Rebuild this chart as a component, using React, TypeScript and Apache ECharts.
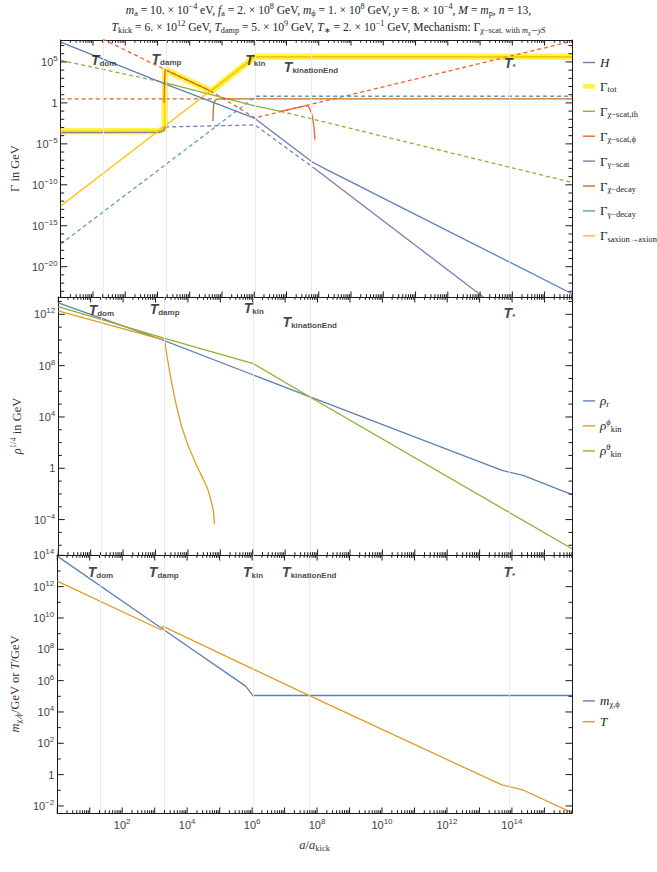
import React, { useEffect, useRef } from "react";
import * as echarts from "echarts";

// ---------- axis extents (log10 of the plotted quantity) ----------
const X_RANGE = [0, 15.85];
const P1_RANGE = [-23.7, 7.68];
const P2_RANGE = [-6.76, 13.35];
const P3_RANGE = [-2.45, 14.02];

// ---------- tick labels (exponents) ----------
const X_LABELS = [2, 4, 6, 8, 10, 12, 14];
const P1_LABELS = [-20, -15, -10, -5, 0, 5];
const P2_LABELS = [-4, 0, 4, 8, 12];
const P3_LABELS = [-2, 0, 2, 4, 6, 8, 10, 12, 14];

// ---------- temperature markers ----------
const T_NAMES = ["dom", "damp", "kin", "kinationEnd", "*"];
const T_LOGA = [1.33, 3.28, 6.03, 7.76, 13.92];

// ---------- panel 1 : rates (log10 a/a_kick , log10 Γ/GeV) ----------
const H_LOGA = [0, 3.25, 6.02, 7.5, 7.8, 8.2, 8.6, 15.85];
const H_LOGV = [7.42, 2.3, -1.9, -6.34, -7.22, -8.05, -8.85, -23.3];

const TOT_LOGA = [0, 3.0, 3.15, 3.22, 3.24, 4.66, 6.02, 15.85];
const TOT_LOGV = [-3.47, -3.45, -3.3, -3.06, 4.05, 1.42, 5.63, 5.63];

const TH_DASH1_LOGA = [0, 3.25];
const TH_DASH1_LOGV = [5.2, 2.45];
const TH_SOLID_LOGA = [3.25, 6.02, 6.82];
const TH_SOLID_LOGV = [2.45, -0.35, -1.03];
const TH_DASH2_LOGA = [6.82, 15.85];
const TH_DASH2_LOGV = [-1.03, -9.71];

const PHI_DASH_LOGA = [1.3, 3.24, 4.66, 6.02, 15.85];
const PHI_DASH_LOGV = [7.8, 4.05, 1.42, -1.83, 7.53];
const PHI_SOLID1_LOGA = [3.2, 3.21, 3.22, 3.24, 4.66];
const PHI_SOLID1_LOGV = [0.0, 1.5, 3.0, 4.05, 1.42];
const PHI_SOLID2_LOGA = [6.82, 7.64, 7.71, 7.79, 7.85, 7.88];
const PHI_SOLID2_LOGV = [-1.03, -0.29, -0.61, -1.43, -2.86, -4.49];

const GS_SOLID1_LOGA = [0, 3.05, 3.2, 3.24];
const GS_SOLID1_LOGV = [-3.62, -3.6, -3.35, -2.94];
const GS_DASH_LOGA = [3.24, 6.02, 7.85];
const GS_DASH_LOGV = [-2.94, -2.69, -7.95];
const GS_SOLID2_LOGA = [7.85, 13.1];
const GS_SOLID2_LOGV = [-7.95, -23.7];

const CD_DASH_LOGA = [0, 4.75];
const CD_DASH_LOGV = [0.49, 0.49];
const CD_SOLID_LOGA = [4.72, 4.73, 4.75, 4.8, 4.9, 15.85];
const CD_SOLID_LOGV = [-2.25, -1.0, 0.0, 0.38, 0.49, 0.49];

const GD_LOGA = [0, 6.05, 15.85];
const GD_LOGV = [-17.23, 0.81, 0.81];

const SAX_LOGA = [0, 6.02, 15.85];
const SAX_LOGV = [-12.6, 5.63, 5.63];

// ---------- panel 2 : energy densities (log10 ρ^{1/4}/GeV) ----------
const RHOR_LOGA = [0, 3.23, 6.02, 7.71, 13.69, 14.34, 15.85];
const RHOR_LOGV = [12.9, 9.99, 7.27, 5.63, -0.17, -0.56, -2.05];
const RHOPHI_LOGA = [0, 3.28, 3.35, 3.49, 3.64, 3.79, 4.0, 4.26, 4.46, 4.62, 4.72, 4.79, 4.82];
const RHOPHI_LOGV = [12.27, 9.99, 8.82, 6.75, 4.93, 3.38, 1.82, 0.26, -0.77, -1.68, -2.59, -3.37, -4.35];
const RHOTH_LOGA = [0, 3.23, 6.02, 7.71, 15.85];
const RHOTH_LOGV = [12.6, 10.17, 8.15, 5.63, -6.27];

// ---------- panel 3 : mass and temperature (log10 GeV) ----------
const M_LOGA = [0, 3.19, 5.8, 5.95, 6.02, 15.85];
const M_LOGV = [13.95, 9.38, 5.65, 5.25, 5.05, 5.05];
const TEMP_LOGA = [0, 3.19, 3.26, 7.73, 13.69, 14.34, 15.85];
const TEMP_LOGV = [12.35, 9.25, 9.46, 5.07, -0.66, -0.98, -2.43];

// ---------- styling ----------
const SERIF = "'Liberation Serif', 'Times New Roman', serif";
const SANS = "'Liberation Sans', Arial, sans-serif";
const C = {
  blue: "#5E81B5",
  orange: "#E19C24",
  green: "#8FB032",
  red: "#EB6235",
  purple: "#8778B3",
  brown: "#C56E1A",
  lblue: "#5D9EC7",
  gold: "#FFBF00",
  yellow: "#FFF34A",
  yellowCore: "#F2DE00",
};
const DASH = [4, 3];
const LW = 1.3;
const PANELS = [
  { top: 40, height: 257 },
  { top: 297, height: 258 },
  { top: 555, height: 258 },
];
const GRID_L = 57;
const GRID_R = 85;
const T_LABEL_DY = [
  [19.5, 19, 20, 26.7, 23.3],
  [13, 12, 11.3, 25.3, 16.3],
  [17.3, 17.3, 16.7, 17.3, 16.7],
];
const TICK_LEN = { xMajor: 5.5, xMinor: 2.8, yMajor: 6.5, yMinor: 3.5 };

const pts = (xs: number[], ys: number[]) => xs.map((x, i) => [x, ys[i]]);
const nb = (s: string) =>
  s.replace(/^ +| +$/g, (m) => "\u00a0".repeat(m.length));
const rt = (toks: [string, string][]) =>
  toks.map(([k, t]) => `{${k}|${nb(t)}}`).join("");

const intRange = (a: number, b: number) => {
  const r: number[] = [];
  for (let i = Math.ceil(a); i <= Math.floor(b); i++) r.push(i);
  return r;
};
const X_MAJOR = intRange(X_RANGE[0], X_RANGE[1]);
const X_MINOR: number[] = [];
X_MAJOR.forEach((n) => {
  for (let k = 2; k <= 9; k++) {
    const v = n + Math.log10(k);
    if (v < X_RANGE[1]) X_MINOR.push(v);
  }
});
const yMinorOf = (r: number[], labels: number[]) =>
  intRange(r[0], r[1]).filter((v) => labels.indexOf(v) < 0);

const pow10 = (v: number) => {
  const n = Math.round(v);
  if (n === 0) return "{b|1}";
  return `{b|10}{sp|${n < 0 ? "\u2212" + -n : n}}`;
};

const TICK_RICH = {
  b: { fontFamily: SANS, fontSize: 11, color: "#444" },
  sp: { fontFamily: SANS, fontSize: 8, color: "#444", padding: [0, 0, 7, 0] },
};
const NAME_RICH = {
  r: { fontFamily: SERIF, fontSize: 12.5, color: "#333" },
  i: { fontFamily: SERIF, fontSize: 12.5, fontStyle: "italic", color: "#333" },
  sb: { fontFamily: SERIF, fontSize: 8.5, color: "#333", padding: [6, 0, 0, 0] },
  sp: { fontFamily: SERIF, fontSize: 8.5, color: "#333", padding: [0, 0, 8, 0] },
};
const LEG_RICH = {
  r: { fontFamily: SERIF, fontSize: 13, color: "#222" },
  i: { fontFamily: SERIF, fontSize: 13, fontStyle: "italic", color: "#222" },
  sb: { fontFamily: SERIF, fontSize: 8.5, color: "#222", padding: [6, 0, 0, 0] },
  sp: { fontFamily: SERIF, fontSize: 8.5, fontStyle: "italic", color: "#222", padding: [0, 0, 8, 0] },
};
const TLAB_RICH = {
  t: { fontFamily: SANS, fontSize: 14, fontWeight: "bold", fontStyle: "italic", color: "#111" },
  s: { fontFamily: SANS, fontSize: 8, fontWeight: "bold", color: "#111", padding: [7, 0, 0, 0] },
};
const TITLE_RICH = {
  r: { fontFamily: SERIF, fontSize: 11.6, fill: "#222", color: "#222" },
  i: { fontFamily: SERIF, fontSize: 11.6, fontStyle: "italic", fill: "#222", color: "#222" },
  sb: { fontFamily: SERIF, fontSize: 8.2, fill: "#222", color: "#222", padding: [6, 0, 0, 0] },
  sbi: { fontFamily: SERIF, fontSize: 8.2, fontStyle: "italic", fill: "#222", color: "#222", padding: [6, 0, 0, 0] },
  ssb: { fontFamily: SERIF, fontSize: 6.3, fill: "#222", color: "#222", padding: [10, 0, 0, 0] },
  sp: { fontFamily: SERIF, fontSize: 8.2, fill: "#222", color: "#222", padding: [0, 0, 8, 0] },
};

const TITLE1 = rt([
  ["i", "m"], ["sb", "a"], ["r", " = 10. \u00d7 10"], ["sp", "\u22124"], ["r", " eV, "],
  ["i", "f"], ["sb", "a"], ["r", " = 2. \u00d7 10"], ["sp", "8"], ["r", " GeV, "],
  ["i", "m"], ["sb", "\u03d5"], ["r", " = 1. \u00d7 10"], ["sp", "8"], ["r", " GeV, "],
  ["i", "y"], ["r", " = 8. \u00d7 10"], ["sp", "\u22124"], ["r", ", "],
  ["i", "M"], ["r", " = "], ["i", "m"], ["sb", "p"], ["r", ", "],
  ["i", "n"], ["r", " = 13,"],
]);
const TITLE2 = rt([
  ["i", "T"], ["sb", "kick"], ["r", " = 6. \u00d7 10"], ["sp", "12"], ["r", " GeV, "],
  ["i", "T"], ["sb", "damp"], ["r", " = 5. \u00d7 10"], ["sp", "9"], ["r", " GeV, "],
  ["i", "T"], ["sb", "\u2217"], ["r", " = 2. \u00d7 10"], ["sp", "\u22121"], ["r", " GeV, Mechanism: \u0393"],
  ["sb", "\u03c7\u2212scat. with "], ["sbi", "m"], ["ssb", "\u03c7"], ["sb", "\u223c"], ["sbi", "yS"],
]);

const Y_NAMES = [
  rt([["r", "\u0393 in GeV"]]),
  rt([["i", "\u03c1"], ["sp", "1/4"], ["r", " in GeV"]]),
  rt([["i", "m"], ["sb", "\u03c7,\u03d5"], ["r", "/GeV or "], ["i", "T"], ["r", "/GeV"]]),
];
const X_NAME = rt([["i", "a"], ["r", "/"], ["i", "a"], ["sb", "kick"]]);

const LEGEND_LABELS: Record<string, string> = {
  H: rt([["i", "H"]]),
  "\u0393_tot": rt([["r", "\u0393"], ["sb", "tot"]]),
  "\u0393_\u03c7\u2212scat,th": rt([["r", "\u0393"], ["sb", "\u03c7\u2212scat,th"]]),
  "\u0393_\u03c7\u2212scat,\u03d5": rt([["r", "\u0393"], ["sb", "\u03c7\u2212scat,\u03d5"]]),
  "\u0393_\u03b3\u2212scat": rt([["r", "\u0393"], ["sb", "\u03b3\u2212scat"]]),
  "\u0393_\u03c7\u2212decay": rt([["r", "\u0393"], ["sb", "\u03c7\u2212decay"]]),
  "\u0393_\u03b3\u2212decay": rt([["r", "\u0393"], ["sb", "\u03b3\u2212decay"]]),
  "\u0393_saxion\u2192axion": rt([["r", "\u0393"], ["sb", "saxion\u2192axion"]]),
  "\u03c1_r": rt([["i", "\u03c1"], ["sb", "r"]]),
  "\u03c1_kin^\u03d5": rt([["i", "\u03c1"], ["sp", "\u03d5"], ["sb", "kin"]]),
  "\u03c1_kin^\u03b8": rt([["i", "\u03c1"], ["sp", "\u03b8"], ["sb", "kin"]]),
  "m_\u03c7,\u03d5": rt([["i", "m"], ["sb", "\u03c7,\u03d5"]]),
  T: rt([["i", "T"]]),
};
const LEGEND1 = [
  "H", "\u0393_tot", "\u0393_\u03c7\u2212scat,th", "\u0393_\u03c7\u2212scat,\u03d5",
  "\u0393_\u03b3\u2212scat", "\u0393_\u03c7\u2212decay", "\u0393_\u03b3\u2212decay", "\u0393_saxion\u2192axion",
];
const LEGEND2 = ["\u03c1_r", "\u03c1_kin^\u03d5", "\u03c1_kin^\u03b8"];
const LEGEND3 = ["m_\u03c7,\u03d5", "T"];
const ICON_THIN = "path://M0 0H12V1.4H0Z";
const ICON_THICK = "path://M0 0H12V4.6H0Z";

function axesFor(gi: number, yr: number[], yLabels: number[], bottomLabels: boolean) {
  const frame = { show: true, onZero: false, lineStyle: { color: "#1a1a1a", width: 1 } };
  const base = (min: number, max: number) => ({
    gridIndex: gi, type: "value", min, max, silent: true,
    splitLine: { show: false }, axisPointer: { show: false }, axisTick: { show: false },
  });
  const off = { show: false };
  const xb: any = {
    ...base(X_RANGE[0], X_RANGE[1]), position: "bottom", axisLine: frame,
    axisLabel: bottomLabels
      ? { show: true, customValues: X_LABELS, formatter: pow10, rich: TICK_RICH, margin: 4 }
      : off,
  };
  if (bottomLabels) {
    xb.name = X_NAME;
    xb.nameLocation = "middle";
    xb.nameGap = 24;
    xb.nameTextStyle = { rich: NAME_RICH };
  }
  const xAxes = [
    xb,
    { ...base(X_RANGE[0], X_RANGE[1]), position: "top", axisLine: frame, axisLabel: off },
  ];
  const yAxes = [
    {
      ...base(yr[0], yr[1]), position: "left", axisLine: frame,
      axisLabel: { show: true, customValues: yLabels, formatter: pow10, rich: TICK_RICH, margin: 3 },
      name: Y_NAMES[gi], nameLocation: "middle", nameRotate: 90, nameGap: 33,
      nameTextStyle: { rich: NAME_RICH },
    },
    { ...base(yr[0], yr[1]), position: "right", axisLine: frame, axisLabel: off },
  ];
  return { xAxes, yAxes };
}

// frame ticks on all four sides, placed through the panel's own axes
function tickSeries(p: number, yr: number[], yLabels: number[]) {
  const data: number[][] = [];
  X_MAJOR.forEach((x) => data.push([x, yr[0], 0, TICK_LEN.xMajor]));
  X_MINOR.forEach((x) => data.push([x, yr[0], 0, TICK_LEN.xMinor]));
  yLabels.forEach((y) => data.push([X_RANGE[0], y, 1, TICK_LEN.yMajor]));
  yMinorOf(yr, yLabels).forEach((y) => data.push([X_RANGE[0], y, 1, TICK_LEN.yMinor]));
  const st = { stroke: "#1a1a1a", lineWidth: 1 };
  return {
    type: "custom", name: "ticks" + p, xAxisIndex: 2 * p, yAxisIndex: 2 * p,
    data, silent: true, clip: false, z: 6,
    renderItem: (_params: any, api: any) => {
      const a = api.value(0);
      const b = api.value(1);
      const kind = api.value(2);
      const len = api.value(3);
      if (kind === 0) {
        const p0 = api.coord([a, yr[0]]);
        const p1 = api.coord([a, yr[1]]);
        return {
          type: "group",
          children: [
            { type: "line", shape: { x1: p0[0], y1: p0[1], x2: p0[0], y2: p0[1] - len }, style: st },
            { type: "line", shape: { x1: p1[0], y1: p1[1], x2: p1[0], y2: p1[1] + len }, style: st },
          ],
        };
      }
      const q0 = api.coord([X_RANGE[0], b]);
      const q1 = api.coord([X_RANGE[1], b]);
      return {
        type: "group",
        children: [
          { type: "line", shape: { x1: q0[0], y1: q0[1], x2: q0[0] + len, y2: q0[1] }, style: st },
          { type: "line", shape: { x1: q1[0], y1: q1[1], x2: q1[0] - len, y2: q1[1] }, style: st },
        ],
      };
    },
  };
}

function line(name: string, p: number, data: number[][], color: string, width: number, dashed: boolean) {
  return {
    type: "line", name, xAxisIndex: 2 * p, yAxisIndex: 2 * p, data,
    showSymbol: false, symbol: "none", silent: true, clip: true, z: 3,
    emphasis: { disabled: true },
    itemStyle: { color },
    lineStyle: { color, width, type: dashed ? DASH : "solid" },
  };
}

function markerSeries(p: number, yr: number[]) {
  return [
    {
      type: "scatter", name: "grid" + p, xAxisIndex: 2 * p, yAxisIndex: 2 * p,
      data: [], silent: true, z: 1,
      markLine: {
        silent: true, symbol: "none", animation: false,
        label: { show: false },
        lineStyle: { color: "#e9e9e9", width: 0.9, type: "solid" },
        data: T_LOGA.map((x) => ({ xAxis: x })),
      },
    },
    {
      type: "scatter", name: "Tlabels" + p, xAxisIndex: 2 * p, yAxisIndex: 2 * p,
      symbolSize: 0.1, clip: false, silent: true, z: 10,
      itemStyle: { color: "rgba(0,0,0,0)" },
      data: T_LOGA.map((x, i) => ({
        value: [x, yr[1]],
        label: { offset: [0, T_LABEL_DY[p][i]] },
      })),
      label: {
        show: true, position: "inside",
        formatter: (prm: any) => `{t|T}{s|${T_NAMES[prm.dataIndex]}}`,
        rich: TLAB_RICH,
      },
    },
  ];
}

function legendFor(names: string[], top: number, gap: number) {
  return {
    data: names.map((n) => ({ name: n, icon: n === "\u0393_tot" ? ICON_THICK : ICON_THIN })),
    orient: "vertical", left: 578, top, itemWidth: 12, itemHeight: 14, itemGap: gap,
    selectedMode: false,
    itemStyle: { borderWidth: 0 },
    formatter: (n: string) => LEGEND_LABELS[n] || n,
    textStyle: { fontFamily: SERIF, fontSize: 13, color: "#222", rich: LEG_RICH },
  };
}

function buildOption() {
  const a1 = axesFor(0, P1_RANGE, P1_LABELS, false);
  const a2 = axesFor(1, P2_RANGE, P2_LABELS, false);
  const a3 = axesFor(2, P3_RANGE, P3_LABELS, true);

  const series: any[] = [
    ...markerSeries(0, P1_RANGE),
    ...markerSeries(1, P2_RANGE),
    ...markerSeries(2, P3_RANGE),
    tickSeries(0, P1_RANGE, P1_LABELS),
    tickSeries(1, P2_RANGE, P2_LABELS),
    tickSeries(2, P3_RANGE, P3_LABELS),
    // panel 1
    line("\u0393_tot", 0, pts(TOT_LOGA, TOT_LOGV), C.yellow, 6.5, false),
    line("\u0393_tot core", 0, pts(TOT_LOGA, TOT_LOGV), C.yellowCore, 1.6, false),
    line("\u0393_\u03c7\u2212scat,th", 0, pts(TH_SOLID_LOGA, TH_SOLID_LOGV), C.green, LW, false),
    line("th dashed 1", 0, pts(TH_DASH1_LOGA, TH_DASH1_LOGV), C.green, LW, true),
    line("th dashed 2", 0, pts(TH_DASH2_LOGA, TH_DASH2_LOGV), C.green, LW, true),
    line("\u0393_\u03c7\u2212scat,\u03d5", 0, pts(PHI_SOLID1_LOGA, PHI_SOLID1_LOGV), C.red, LW, false),
    line("phi solid 2", 0, pts(PHI_SOLID2_LOGA, PHI_SOLID2_LOGV), C.red, LW, false),
    line("phi dashed", 0, pts(PHI_DASH_LOGA, PHI_DASH_LOGV), C.red, LW, true),
    line("\u0393_\u03b3\u2212scat", 0, pts(GS_SOLID1_LOGA, GS_SOLID1_LOGV), C.purple, LW, false),
    line("gs dashed", 0, pts(GS_DASH_LOGA, GS_DASH_LOGV), C.purple, LW, true),
    line("gs solid 2", 0, pts(GS_SOLID2_LOGA, GS_SOLID2_LOGV), C.purple, LW, false),
    line("\u0393_\u03c7\u2212decay", 0, pts(CD_SOLID_LOGA, CD_SOLID_LOGV), C.brown, LW, false),
    line("cd dashed", 0, pts(CD_DASH_LOGA, CD_DASH_LOGV), C.brown, LW, true),
    line("\u0393_\u03b3\u2212decay", 0, pts(GD_LOGA, GD_LOGV), C.lblue, LW, true),
    line("\u0393_saxion\u2192axion", 0, pts(SAX_LOGA, SAX_LOGV), C.gold, LW, false),
    line("H", 0, pts(H_LOGA, H_LOGV), C.blue, LW, false),
    // panel 2
    line("\u03c1_r", 1, pts(RHOR_LOGA, RHOR_LOGV), C.blue, LW, false),
    line("\u03c1_kin^\u03d5", 1, pts(RHOPHI_LOGA, RHOPHI_LOGV), C.orange, LW, false),
    line("\u03c1_kin^\u03b8", 1, pts(RHOTH_LOGA, RHOTH_LOGV), C.green, LW, false),
    // panel 3
    line("m_\u03c7,\u03d5", 2, pts(M_LOGA, M_LOGV), C.blue, LW, false),
    line("T", 2, pts(TEMP_LOGA, TEMP_LOGV), C.orange, LW, false),
  ];

  return {
    animation: false,
    backgroundColor: "#ffffff",
    grid: PANELS.map((g) => ({ left: GRID_L, right: GRID_R, top: g.top, height: g.height, containLabel: false })),
    xAxis: [...a1.xAxes, ...a2.xAxes, ...a3.xAxes],
    yAxis: [...a1.yAxes, ...a2.yAxes, ...a3.yAxes],
    legend: [
      legendFor(LEGEND1, 51, 10.9),
      legendFor(LEGEND2, 389.4, 9.0),
      legendFor(LEGEND3, 689.4, 6.8),
    ],
    graphic: [
      {
        type: "text", x: 328.5, y: 10, silent: true,
        style: { text: TITLE1, align: "center", verticalAlign: "middle", rich: TITLE_RICH, fontFamily: SERIF, fontSize: 11.6, fill: "#222" },
      },
      {
        type: "text", x: 328.5, y: 27, silent: true,
        style: { text: TITLE2, align: "center", verticalAlign: "middle", rich: TITLE_RICH, fontFamily: SERIF, fontSize: 11.6, fill: "#222" },
      },
    ],
    series,
  };
}

export default function App() {
  const ref = useRef<HTMLDivElement>(null);
  useEffect(() => {
    const chart = echarts.init(ref.current as HTMLDivElement, null, { renderer: "svg" });
    chart.setOption(buildOption() as any);
    return () => chart.dispose();
  }, []);
  return (
    <div
      ref={ref}
      style={{ position: "absolute", left: 0, top: 0, width: 657, height: 872, background: "#fff" }}
    />
  );
}
